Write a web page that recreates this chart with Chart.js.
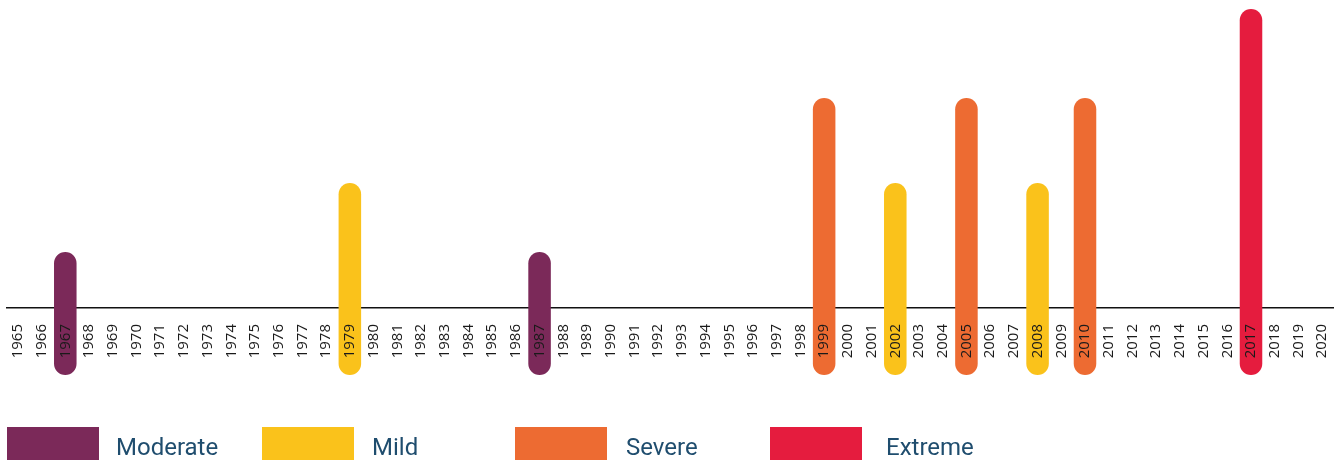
<!DOCTYPE html>
<html lang="en">
<head>
<meta charset="UTF-8">
<title>Drought timeline 1965-2020</title>
<script src="https://cdn.jsdelivr.net/npm/chart.js"></script>
<style>
  html, body { margin: 0; padding: 0; background: #fff; }
  #wrap { width: 1338px; height: 460px; position: relative; }
</style>
</head>
<body>
<div id="wrap"><canvas id="chart" width="1338" height="460"></canvas></div>
<script>
// years on the timeline
const years = [
  '1965', '1966', '1967', '1968', '1969', '1970', '1971', '1972', '1973', '1974',
  '1975', '1976', '1977', '1978', '1979', '1980', '1981', '1982', '1983', '1984',
  '1985', '1986', '1987', '1988', '1989', '1990', '1991', '1992', '1993', '1994',
  '1995', '1996', '1997', '1998', '1999', '2000', '2001', '2002', '2003', '2004',
  '2005', '2006', '2007', '2008', '2009', '2010', '2011', '2012', '2013', '2014',
  '2015', '2016', '2017', '2018', '2019', '2020'
];

// drought severity classes
const severityNames = ['Moderate', 'Mild', 'Severe', 'Extreme'];
const severityColors = ['#7b2959', '#fac21b', '#ed6b32', '#e51c3e'];
// bar height above the axis for each class, and how far the bar hangs below it
const severityHeight = [56, 125, 210, 299];
const barBase = -67;

// drought years per class
const moderateYears = ['1967', '1987'];
const mildYears = ['1979', '2002', '2008'];
const severeYears = ['1999', '2005', '2010'];
const extremeYears = ['2017'];
const yearsByClass = [moderateYears, mildYears, severeYears, extremeYears];

// build one dataset per class
const datasets = severityNames.map((name, i) => ({
  label: name,
  data: years.map(y => yearsByClass[i].includes(y) ? [barBase, severityHeight[i]] : null),
  backgroundColor: severityColors[i],
  borderRadius: 12,
  borderSkipped: false,
  barPercentage: 0.95,
  categoryPercentage: 1
}));

// legend laid out on a fixed grid like the original
const legendBoxX = [7, 262, 515, 770];
const legendTextX = [116, 372, 626, 886];
const legendGrid = {
  id: 'legendGrid',
  afterDraw(chart) {
    const ctx = chart.ctx;
    ctx.save();
    ctx.font = '24px Roboto, "Open Sans", sans-serif';
    ctx.textBaseline = 'alphabetic';
    severityNames.forEach((name, i) => {
      ctx.fillStyle = severityColors[i];
      ctx.fillRect(legendBoxX[i], 427, 92, 34);
      ctx.fillStyle = '#1f4d6e';
      ctx.fillText(name, legendTextX[i], 455);
    });
    ctx.restore();
  }
};

const chart = new Chart(document.getElementById('chart'), {
  type: 'bar',
  data: { labels: years, datasets: datasets },
  options: {
    responsive: false,
    animation: false,
    layout: { padding: { left: 6, right: 4, top: 9, bottom: 85 } },
    plugins: {
      legend: { display: false },
      tooltip: { enabled: false }
    },
    scales: {
      x: {
        type: 'category',
        position: { y: 0 },
        offset: true,
        grid: { display: false },
        border: { display: false },
        afterFit: scale => { scale.paddingLeft = 0; scale.paddingRight = 0; },
        ticks: {
          z: 1,
          autoSkip: false,
          minRotation: 90,
          maxRotation: 90,
          padding: 8,
          color: '#1a1a1a',
          font: { family: '"Open Sans", sans-serif', size: 15 }
        }
      },
      y: {
        min: barBase,
        max: 299,
        afterBuildTicks: scale => { scale.ticks = [{ value: 0 }]; },
        border: { display: false },
        grid: {
          drawTicks: false,
          lineWidth: 1.5,
          color: ctx => ctx.tick && ctx.tick.value === 0 ? '#111' : 'rgba(0,0,0,0)'
        },
        ticks: { display: false }
      }
    },
    datasets: { bar: { grouped: false } }
  },
  plugins: [legendGrid]
});
</script>
</body>
</html>
